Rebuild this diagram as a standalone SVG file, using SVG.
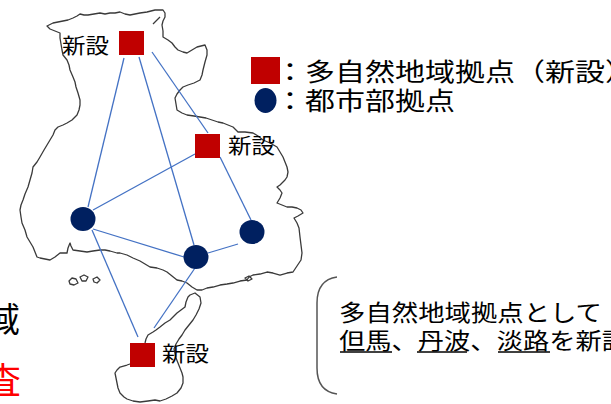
<svg xmlns="http://www.w3.org/2000/svg" width="611" height="404" viewBox="0 0 611 404">
<style>
.map{fill:none;stroke:#3a3a3a;stroke-width:1.3;stroke-linejoin:round}
.sq{fill:#C00000}
.ci{fill:#002060}
.ln{stroke:#4472C4;stroke-width:1.3;fill:none}
.t{font-family:"Noto Sans CJK JP","Noto Sans",sans-serif;fill:#000}
.ul{stroke:#000;stroke-width:1.3}
</style>
<rect width="611" height="404" fill="#fff"/>
<g id="map">
<path class="map" d="M47,26 L53,23 L58,22 L63,21 L68,20 L73,18 L77,16 L80,14 L84,15 L88,15 L94,14 L100,13 L105,14 L110,13 L115,13 L120,12 L125,14 L130,15 L135,14 L140,13 L147,12 L151,11 L155,10 L160,10 L163,10 L165,13 L165,17 L163,21 L162,25 L163,31 L163,37 L168,40 L172,43 L175,47 L178,50 L183,52 L187,53 L192,50 L197,47 L201,46 L205,45 L207,50 L207,55 L205,62 L203,70 L202,75 L200,80 L194,83 L188,85 L183,87 L180,90 L177,94 L175,98 L176,104 L177,110 L182,113 L187,115 L194,116 L200,117 L206,118 L212,120 L218,122 L223,123 L228,125 L233,127 L236,130 L238,132 L245,132 L253,133 L258,136 L263,140 L270,143 L277,147 L280,152 L283,157 L285,162 L287,167 L288,172 L287,177 L285,180 L283,182 L280,185 L277,187 L280,190 L282,193 L280,198 L277,203 L282,205 L287,207 L292,207 L297,208 L301,210 L303,213 L298,216 L294,218 L297,223 L299,228 L300,237 L301,245 L302,253 L301,260 L297,266 L293,272 L287,273 L280,275 L273,273 L267,272 L260,274 L253,275 L249,277 L247,280 L240,281 L233,283 L227,284 L220,285 L213,287 L207,288 L202,290 L197,290 L192,287 L187,283 L182,281 L177,280 L172,276 L167,272 L163,270 L157,268 L150,267 L145,264 L140,261 L133,258 L127,255 L120,253 L117,253 L110,251 L105,250 L100,250 L93,251 L87,252 L80,251 L73,250 L71,246 L70,243 L68,248 L67,253 L60,253 L55,257 L50,260 L45,259 L40,258 L37,257 L35,252 L33,247 L30,242 L27,237 L25,230 L22,223 L21,217 L20,210 L21,205 L23,200 L25,194 L28,187 L30,180 L32,173 L33,167 L37,162 L40,157 L44,150 L47,145 L50,140 L53,135 L55,130 L58,127 L63,125 L67,123 L72,120 L77,115 L79,110 L80,105 L80,100 L78,93 L76,87 L75,82 L73,77 L70,70 L69,65 L67,60 L63,55 L62,50 L61,44 L60,38 L60,33 L55,31 L50,29 Z"/>
<path class="map" d="M153,24 L160,17"/>
<path class="map" d="M200,297 L195,293 L190,295 L188,297 L186,302 L185,307 L181,310 L177,313 L173,317 L170,320 L165,323 L160,327 L156,330 L153,332 L148,335 L146,339 L145,343 L142,348 L138,352 L135,358 L133,363 L127,365 L120,367 L117,370 L115,373 L116,378 L117,383 L118,388 L120,393 L124,397 L127,399 L133,401 L140,402 L148,401 L155,400 L160,401 L166,399 L172,396 L177,393 L181,388 L183,383 L183,377 L182,373 L180,368 L178,363 L176,358 L175,353 L174,349 L176,344 L179,339 L182,335 L185,330 L189,325 L193,320 L196,315 L199,309 L201,303 Z"/>
<path class="map" d="M69,281 L72,278 L76,279 L78,283 L74,285 L70,284 Z"/>
<path class="map" d="M80,277 L84,275 L88,277 L86,281 L82,281 Z"/>
<path class="map" d="M93,279 L97,277 L100,280 L97,283 L94,282 Z"/>
<path class="map" d="M245,278 L249,276 L252,279 L248,281 Z"/>
</g>
<g id="connectors">
<line class="ln" x1="124" y1="58" x2="88" y2="207"/>
<line class="ln" x1="139" y1="57" x2="194" y2="245"/>
<line class="ln" x1="152" y1="52" x2="208" y2="133"/>
<line class="ln" x1="195" y1="154" x2="93" y2="210"/>
<line class="ln" x1="220" y1="157" x2="251" y2="220"/>
<line class="ln" x1="93" y1="229" x2="184" y2="257"/>
<line class="ln" x1="208" y1="253" x2="238" y2="244"/>
<line class="ln" x1="92" y1="230" x2="138" y2="337"/>
<line class="ln" x1="195" y1="268" x2="154" y2="328"/>
</g>
<g id="node-sq1"><rect class="sq" x="119" y="31" width="25" height="24"/><text class="t" x="62" y="53" font-size="21" textLength="47" lengthAdjust="spacingAndGlyphs">新設</text></g>
<g id="node-sq2"><rect class="sq" x="195" y="134" width="25" height="24"/><text class="t" x="228" y="153" font-size="21" textLength="47" lengthAdjust="spacingAndGlyphs">新設</text></g>
<g id="node-sq3"><rect class="sq" x="130" y="343" width="25" height="24"/><text class="t" x="162" y="361" font-size="21" textLength="47" lengthAdjust="spacingAndGlyphs">新設</text></g>
<g id="node-c1"><ellipse class="ci" cx="83" cy="219" rx="12.5" ry="12"/></g>
<g id="node-c2"><ellipse class="ci" cx="196" cy="257" rx="12.5" ry="12"/></g>
<g id="node-c3"><ellipse class="ci" cx="252" cy="232" rx="12.5" ry="12"/></g>
<g id="legend">
<rect class="sq" x="251" y="57" width="29" height="27"/>
<ellipse class="ci" cx="265.5" cy="100.5" rx="11" ry="12.5"/>
<text class="t" x="275" y="81" font-size="25" textLength="360" lengthAdjust="spacingAndGlyphs">：多自然地域拠点（新設）</text>
<text class="t" x="275" y="110" font-size="25" textLength="180" lengthAdjust="spacingAndGlyphs">：都市部拠点</text>
</g>
<g id="note">
<path d="M337,277 C323,279 317,289 317,303 L317,368 C317,382 323,392 337,394" fill="none" stroke="#555" stroke-width="1.5"/>
<text class="t" x="339" y="321" font-size="23" textLength="263" lengthAdjust="spacingAndGlyphs">多自然地域拠点として</text>
<text class="t" x="339" y="349" font-size="23" textLength="289" lengthAdjust="spacingAndGlyphs">但馬、丹波、淡路を新設</text>
<line class="ul" x1="340" y1="352" x2="392" y2="352"/>
<line class="ul" x1="417" y1="352" x2="467" y2="352"/>
<line class="ul" x1="498" y1="352" x2="550" y2="352"/>
</g>
<g id="edge-text">
<text class="t" x="-14" y="332" font-size="34">域</text>
<text x="-15" y="394" font-size="36" font-family="Noto Sans CJK JP,sans-serif" fill="#FF0000">査</text>
</g>
</svg>
